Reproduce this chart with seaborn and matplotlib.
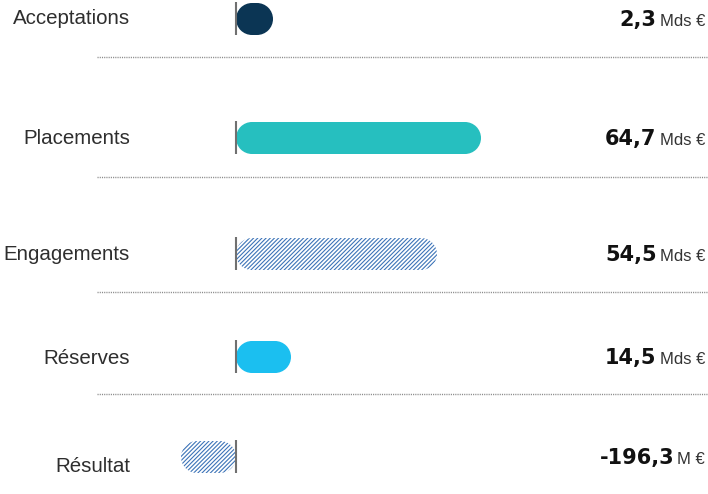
import matplotlib
matplotlib.use('Agg')
import numpy as np
import matplotlib.pyplot as plt
import seaborn as sns
import pandas as pd
from matplotlib.path import Path
from matplotlib.patches import PathPatch

# data
categories = ['Acceptations', 'Placements', 'Engagements', 'Réserves', 'Résultat']
values = ['2,3', '64,7', '54,5', '14,5', '-196,3']
units = ['Mds €', 'Mds €', 'Mds €', 'Mds €', 'M €']
bar_len = [37, 245, 201, 55, -55]   # drawn length of each pill (not to scale with values)

# styles
colors = ['#0b3554', '#26bfbf', '#3d74b8', '#1bbff0', '#3d74b8']
hatched = [False, False, True, False, True]

# layout in pixels (top = 0), baseline of bars at x0
x0 = 236
row_y = [19, 138, 254, 357, 457]
label_y = [18, 138, 254, 358, 466]
sep_y = [57, 177, 292, 394]

plt.rcParams['hatch.linewidth'] = 0.8


def pill_path(xa, xb, ya, yb):
    # stadium shape with true circular ends
    r = (yb - ya) / 2
    yc = (ya + yb) / 2
    right = Path.arc(-90, 90)
    left = Path.arc(90, 270)
    v1 = right.vertices * r + [xb - r, yc]
    v2 = left.vertices * r + [xa + r, yc]
    c1 = right.codes.copy()
    c2 = left.codes.copy()
    c2[0] = Path.LINETO
    verts = np.vstack([v1, v2, v1[:1]])
    codes = np.concatenate([c1, c2, [Path.CLOSEPOLY]])
    return Path(verts, codes)


df = pd.DataFrame({'cat': categories, 'len': bar_len, 'y': row_y})

fig = plt.figure(figsize=(7.08, 4.94), dpi=100)
ax = fig.add_axes([0, 0, 1, 1])
sns.barplot(data=df, x='len', y='y', hue='cat', palette=dict(zip(categories, colors)),
            orient='h', native_scale=True, width=0.32, errorbar=None, legend=False, ax=ax)

# turn the plain rectangles into pills
for p in list(ax.patches):
    bb = p.get_bbox()
    yc = (bb.y0 + bb.y1) / 2
    i = min(range(len(row_y)), key=lambda k: abs(row_y[k] - yc))
    p.remove()
    xa, xb = sorted([bb.x0, bb.x1])
    ya, yb = sorted([bb.y0, bb.y1])
    path = pill_path(xa, xb, ya, yb)
    if hatched[i]:
        pill = PathPatch(path, facecolor='white', edgecolor=colors[i], linewidth=0,
                         hatch='////////')
    else:
        pill = PathPatch(path, facecolor=colors[i], edgecolor='none', linewidth=0)
    ax.add_patch(pill)
    ax.vlines(0, ya - 1, yb, color='#707070', lw=1.5, zorder=5)

ax.set_xlim(-x0, 708 - x0)
ax.set_ylim(494, 0)
ax.axis('off')

# dotted separators
ax.hlines(sep_y, 97 - x0, 708 - x0, colors='#8a8a8a', lw=1, linestyles=(0, (0.8, 0.8)))

# category labels
for i, cat in enumerate(categories):
    ax.text(130 - x0, label_y[i], cat, ha='right', va='center', fontsize=14.8,
            color='#2e2e2e', family='Liberation Sans')

# value labels: bold number + unit
r = fig.canvas.get_renderer()
for i in range(len(categories)):
    u = ax.text(705 - x0, row_y[i] + 7, units[i], ha='right', va='baseline', fontsize=12,
                color='#333333', family='Liberation Sans')
    ext = u.get_window_extent(renderer=r)
    ax.text(ext.x0 - 3 - x0, row_y[i] + 7, values[i], ha='right', va='baseline', fontsize=15,
            fontweight='bold', color='#111111', family='DejaVu Sans')

fig.savefig('out.png', dpi=100)
